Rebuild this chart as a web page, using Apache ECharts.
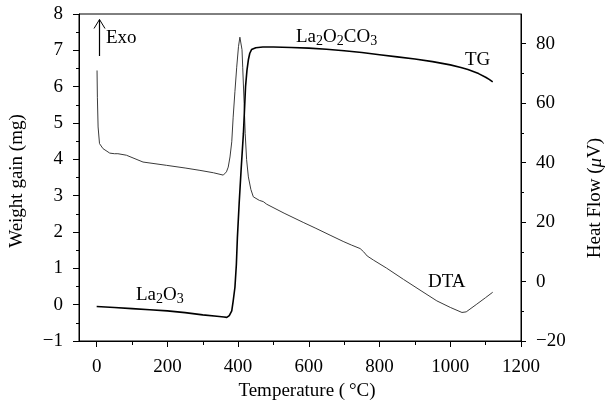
<!DOCTYPE html>
<html><head><meta charset="utf-8">
<script src="https://cdn.jsdelivr.net/npm/echarts@6/dist/echarts.min.js"></script>
<style>html,body{margin:0;padding:0;background:#fff}#c{width:606px;height:408px}</style>
</head><body><div id="c"></div>
<script>
// TG curve: temperature (°C) and weight gain (mg), left axis
const tgTemp = [0, 50, 100, 150, 200, 250, 300, 340, 360, 368, 375, 382, 386, 391, 395, 398, 403, 409, 415, 421, 425, 429, 433, 438, 450, 470, 500, 550, 600, 650, 700, 750, 800, 850, 900, 950, 1000, 1030, 1050, 1080, 1100, 1110, 1120];
const tgWeight = [-0.05, -0.08, -0.11, -0.14, -0.17, -0.22, -0.28, -0.32, -0.34, -0.35, -0.30, -0.17, 0.10, 0.48, 1.10, 1.86, 2.80, 3.80, 4.72, 6.00, 6.45, 6.74, 6.92, 7.02, 7.07, 7.09, 7.09, 7.08, 7.06, 7.03, 6.99, 6.94, 6.88, 6.82, 6.76, 6.69, 6.60, 6.53, 6.47, 6.36, 6.26, 6.20, 6.13];
// DTA curve: temperature (°C) and heat flow (µV), right axis
const dtaTemp = [1, 2, 4, 8, 18, 37, 50, 60, 84, 131, 197, 250, 292, 330, 358, 367, 372, 377, 382, 386, 391, 396, 401, 405, 408, 411, 413, 417, 420, 424, 429, 436, 443, 460, 471, 481, 530, 584, 620, 660, 697, 720, 745, 755, 765, 783, 820, 868, 920, 962, 1000, 1033, 1045, 1075, 1100, 1120];
const dtaFlow = [71.0, 62.0, 52.0, 46.4, 44.7, 43.2, 43.0, 43.0, 42.5, 40.2, 39.1, 38.2, 37.4, 36.6, 35.8, 36.9, 38.5, 41.9, 47.0, 55.3, 64.0, 72.1, 79.0, 82.2, 82.3, 78.0, 72.1, 60.0, 49.8, 41.0, 35.2, 31.0, 28.5, 27.3, 26.9, 26.0, 23.0, 19.9, 17.9, 15.6, 13.5, 12.3, 11.1, 10.0, 8.6, 7.2, 4.5, 0.7, -3.3, -6.5, -8.7, -10.4, -10.2, -7.6, -5.4, -3.6];
// tick values
const xTickLabels = [0, 200, 400, 600, 800, 1000, 1200];
const xMinorTicks = [100, 300, 500, 700, 900, 1100];
const rightTickLabels = [-20, 0, 20, 40, 60, 80];
const rightMinorTicks = [-10, 10, 30, 50, 70];

const FF = '"Liberation Serif","Times New Roman",serif';
const FS = 19;
const minus = v => (v < 0 ? '\u2212' + Math.abs(v) : String(v));
const lbl = {fontFamily: FF, fontSize: FS, color: '#000'};
const rich = {n: {fontFamily: FF, fontSize: FS, lineHeight: 22}, s: {fontFamily: FF, fontSize: 14, lineHeight: 11, verticalAlign: 'bottom'}};

const chart = echarts.init(document.getElementById('c'), null, {renderer: 'canvas'});
chart.setOption({
  animation: false,
  grid: {left: 79, right: 85, top: 14, bottom: 67, containLabel: false, outerBoundsMode: 'none',
         show: true, borderColor: '#000', borderWidth: 1, backgroundColor: 'transparent'},
  xAxis: [
    {type: 'value', min: -50, max: 1200, position: 'bottom',
     axisLine: {show: true, onZero: false, lineStyle: {color: '#000', width: 1}},
     axisTick: {show: true, customValues: xTickLabels, length: 6, lineStyle: {color: '#000'}},
     axisLabel: Object.assign({customValues: xTickLabels, margin: 17, formatter: minus}, lbl),
     splitLine: {show: false},
     name: 'Temperature (\u2009°C)', nameLocation: 'middle', nameGap: 36,
     nameTextStyle: {fontFamily: FF, fontSize: FS, color: '#000', padding: [0, 0, 0, 14]}},
    {type: 'value', min: -50, max: 1200, position: 'bottom',
     axisLine: {show: false, onZero: false},
     axisTick: {show: true, customValues: xMinorTicks, length: 4, lineStyle: {color: '#000'}},
     axisLabel: {show: false}, splitLine: {show: false}}
  ],
  yAxis: [
    {type: 'value', min: -1, max: 8, interval: 1, position: 'left',
     axisLine: {show: true, onZero: false, lineStyle: {color: '#000', width: 1}},
     axisTick: {show: true, length: 6, lineStyle: {color: '#000'}},
     minorTick: {show: true, splitNumber: 2, length: 3, lineStyle: {color: '#000'}},
     axisLabel: Object.assign({margin: 16, formatter: minus}, lbl),
     splitLine: {show: false}, minorSplitLine: {show: false},
     name: 'Weight gain (mg)', nameLocation: 'middle', nameGap: 52, nameRotate: 90,
     nameTextStyle: {fontFamily: FF, fontSize: FS, color: '#000', padding: [0, 7, 0, 0]}},
    {type: 'value', min: -20, max: 90, position: 'right',
     axisLine: {show: true, onZero: false, lineStyle: {color: '#000', width: 1}},
     axisTick: {show: true, customValues: rightTickLabels, length: 5, lineStyle: {color: '#000'}},
     axisLabel: Object.assign({customValues: rightTickLabels, margin: 15, formatter: minus}, lbl),
     splitLine: {show: false},
     name: 'Heat Flow ({i|μ}V)', nameLocation: 'middle', nameGap: 65, nameRotate: 90,
     nameTextStyle: {fontFamily: FF, fontSize: FS, color: '#000', padding: [0, 41, 0, 0],
       rich: {i: {fontFamily: FF, fontSize: FS, fontStyle: 'italic', color: '#000'}}}},
    {type: 'value', min: -20, max: 90, position: 'right',
     axisLine: {show: false, onZero: false},
     axisTick: {show: true, customValues: rightMinorTicks, length: 3, lineStyle: {color: '#000'}},
     axisLabel: {show: false}, splitLine: {show: false}}
  ],
  series: [
    {name: 'TG', type: 'line', xAxisIndex: 0, yAxisIndex: 0, symbol: 'none', z: 3,
     data: tgTemp.map((t, i) => [t, tgWeight[i]]),
     lineStyle: {color: '#000', width: 1.6}},
    {name: 'DTA', type: 'line', xAxisIndex: 0, yAxisIndex: 1, symbol: 'none', z: 2,
     data: dtaTemp.map((t, i) => [t, dtaFlow[i]]),
     lineStyle: {color: '#3a3a3a', width: 1}}
  ],
  graphic: [
    {type: 'polyline', shape: {points: [[99.5, 56], [99.5, 19.5]]}, style: {stroke: '#000', lineWidth: 1.2, fill: null}},
    {type: 'polyline', shape: {points: [[94, 28.5], [99.5, 19.5], [105, 28.5]]}, style: {stroke: '#000', lineWidth: 1, fill: null}},
    {type: 'text', x: 106, y: 38.5, style: {text: 'Exo', font: FS + 'px ' + FF, fill: '#000', verticalAlign: 'middle', align: 'left'}},
    {type: 'text', x: 296, y: 37, style: {text: '{n|La}{s|2}{n|O}{s|2}{n|CO}{s|3}', fill: '#000', verticalAlign: 'middle', align: 'left', rich: rich}},
    {type: 'text', x: 465, y: 60.5, style: {text: 'TG', font: FS + 'px ' + FF, fill: '#000', verticalAlign: 'middle', align: 'left'}},
    {type: 'text', x: 428, y: 282.5, style: {text: 'DTA', font: FS + 'px ' + FF, fill: '#000', verticalAlign: 'middle', align: 'left'}},
    {type: 'text', x: 136, y: 295, style: {text: '{n|La}{s|2}{n|O}{s|3}', fill: '#000', verticalAlign: 'middle', align: 'left', rich: rich}}
  ]
});
</script></body></html>
